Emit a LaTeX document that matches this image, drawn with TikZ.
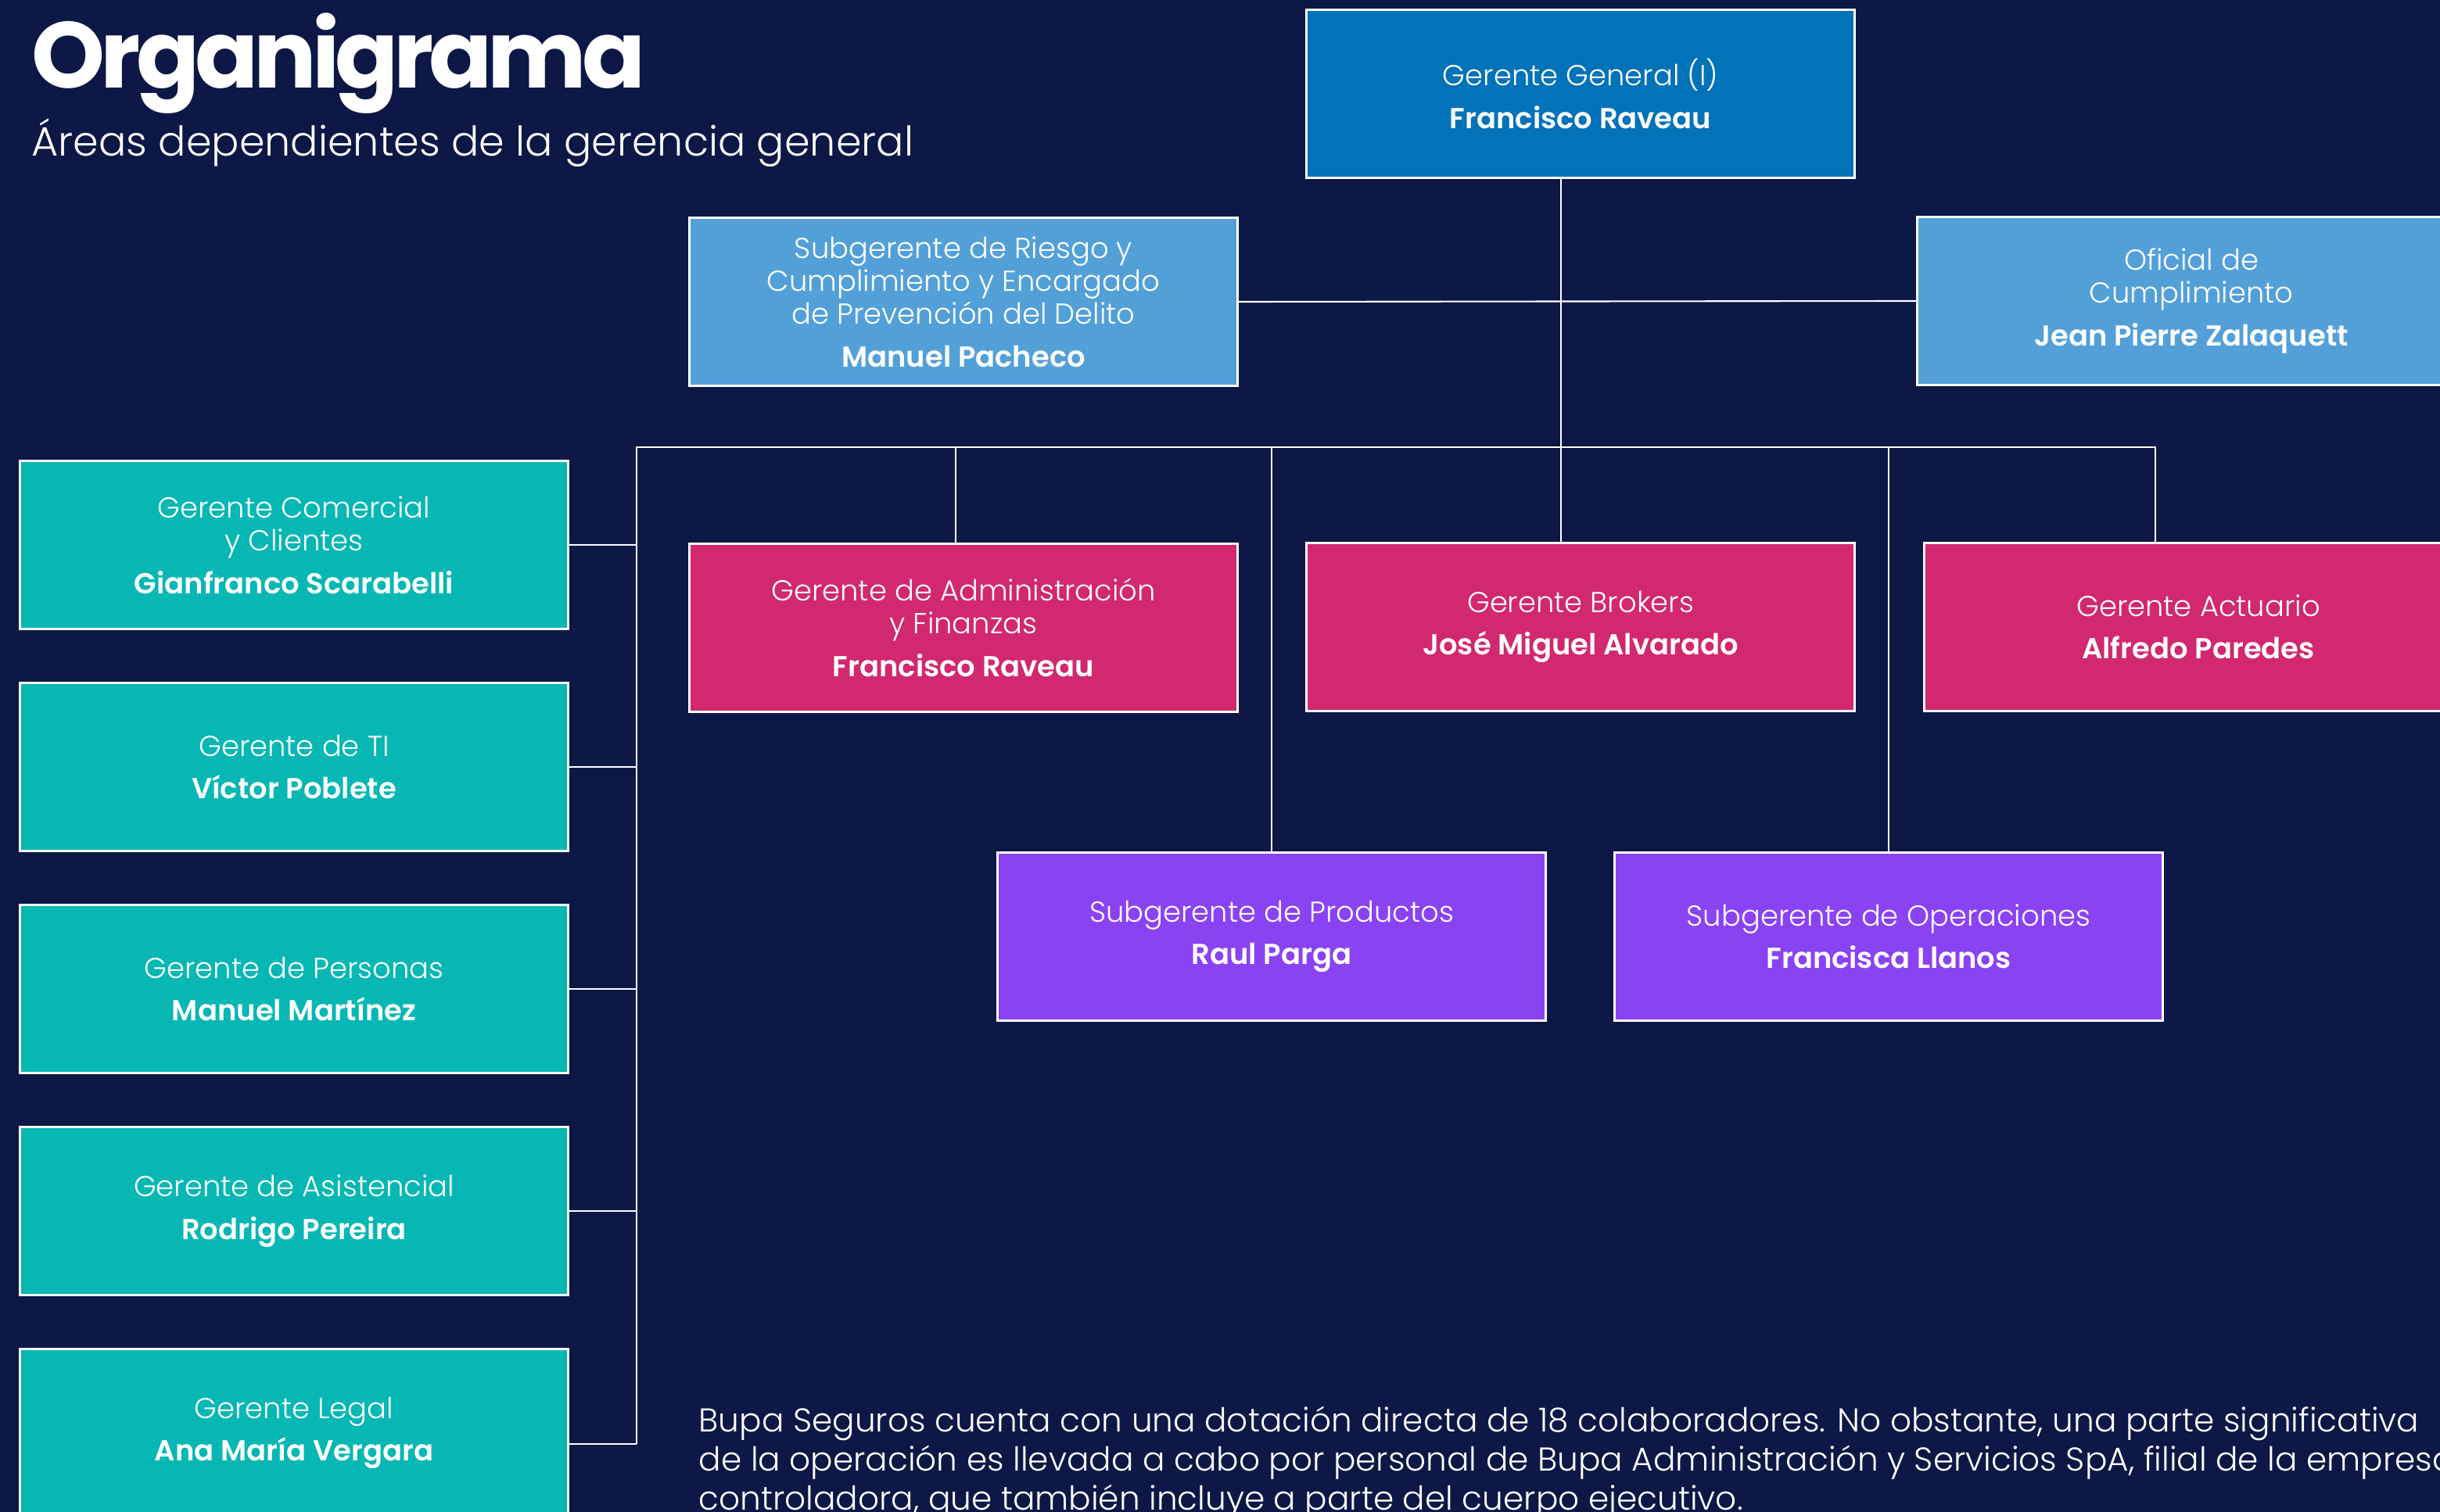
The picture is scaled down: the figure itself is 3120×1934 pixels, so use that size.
\documentclass[tikz,border=0pt]{standalone}
\usepackage{fontspec}
\IfFontExistsTF{Poppins Light}{%
  \IfFontExistsTF{Poppins SemiBold}
    {\setmainfont{Poppins}[UprightFont={* Light},BoldFont={* SemiBold}]}
    {\setmainfont{Poppins}[UprightFont={* Light},BoldFont={* Bold}]}%
}{\setmainfont{Poppins}}
\newfontfamily\titulo{Poppins}[UprightFont={* Bold},LetterSpace=-5]
\usetikzlibrary{calc}
\definecolor{fondo}{RGB}{13,24,70}
\definecolor{azulGG}{RGB}{2,114,185}
\definecolor{celeste}{RGB}{83,160,217}
\definecolor{turquesa}{RGB}{6,183,180}
\definecolor{fucsia}{RGB}{209,40,111}
\definecolor{violeta}{RGB}{138,67,243}
\tikzset{
  caja/.style={draw=white,line width=0.8pt,text=white,minimum width=7cm,minimum height=2.15cm,align=center,inner sep=0pt,font=\fontsize{10.5}{12}\selectfont},
  linea/.style={draw=white,line width=0.6pt}
}

\begin{document}
\begin{tikzpicture}[x=0.01cm,y=-0.01cm]

\useasboundingbox (0,0) rectangle (3120,1934);
\fill [fondo] (0,0) rectangle (3120,1934);

\node (titulo) at (40,113) [anchor=base west,inner sep=0pt,text=white,font=\titulo\fontsize{34}{36}\selectfont] {Organigrama};
\node (subtitulo) at (40,200) [anchor=base west,inner sep=0pt,text=white,font=\fontsize{14.9}{18}\selectfont] {Áreas dependientes de la gerencia general};

\node (GG) at (2021,120) [caja,fill=azulGG] {Gerente General (I)\\[3.5pt]\textbf{Francisco Raveau}};
\node (RI) at (1232,386) [caja,fill=celeste] {Subgerente de Riesgo y\\Cumplimiento y Encargado\\de Prevención del Delito\\[3.5pt]\textbf{Manuel Pacheco}};
\node (OC) at (2802,385) [caja,fill=celeste] {Oficial de\\Cumplimiento\\[3.5pt]\textbf{Jean Pierre Zalaquett}};

\node (CO) at (376,697) [caja,fill=turquesa] {Gerente Comercial\\y Clientes\\[3.5pt]\textbf{Gianfranco Scarabelli}};
\node (TI) at (376,981) [caja,fill=turquesa] {Gerente de TI\\[3.5pt]\textbf{Víctor Poblete}};
\node (PE) at (376,1265) [caja,fill=turquesa] {Gerente de Personas\\[3.5pt]\textbf{Manuel Martínez}};
\node (AS) at (376,1549) [caja,fill=turquesa] {Gerente de Asistencial\\[3.5pt]\textbf{Rodrigo Pereira}};
\node (LE) at (376,1833) [caja,fill=turquesa] {Gerente Legal\\[3.5pt]\textbf{Ana María Vergara}};

\node (AF) at (1232,803) [caja,fill=fucsia] {Gerente de Administración\\y Finanzas\\[3.5pt]\textbf{Francisco Raveau}};
\node (BR) at (2021,802) [caja,fill=fucsia] {Gerente Brokers\\[3.5pt]\textbf{José Miguel Alvarado}};
\node (AC) at (2811,802) [caja,fill=fucsia] {Gerente Actuario\\[3.5pt]\textbf{Alfredo Paredes}};

\node (PR) at (1626,1198) [caja,fill=violeta] {Subgerente de Productos\\[3.5pt]\textbf{Raul Parga}};
\node (OP) at (2415,1198) [caja,fill=violeta] {Subgerente de Operaciones\\[3.5pt]\textbf{Francisca Llanos}};

\node (nota) at (893,1798) [anchor=north west,inner sep=0pt,text=white,align=left,font=\fontsize{12}{14.2}\selectfont] {Bupa Seguros cuenta con una dotación directa de 18 colaboradores. No obstante, una parte significativa\\de la operación es llevada a cabo por personal de Bupa Administración y Servicios SpA, filial de la empresa\\controladora, que también incluye a parte del cuerpo ejecutivo.};

% lineas
\coordinate (tr) at (1996,572);
\coordinate (bi) at (814,572);
\coordinate (bd) at (2756,572);
\coordinate (bb) at (814,1847);
\coordinate (dAF) at (1222,572);
\coordinate (dPR) at (1626,572);
\coordinate (dOP) at (2415,572);

\draw [linea] (tr |- GG.south) -- (tr |- BR.north);
\draw [linea] (RI.east) -- (OC.west);
\draw [linea] (bb) -- (bi) -- (bd) -- (bd |- AC.north);
\draw [linea] (dAF) -- (dAF |- AF.north);
\draw [linea] (dPR) -- (dPR |- PR.north);
\draw [linea] (dOP) -- (dOP |- OP.north);
\draw [linea] (CO.east) -- (CO.east -| bi);
\draw [linea] (TI.east) -- (TI.east -| bi);
\draw [linea] (PE.east) -- (PE.east -| bi);
\draw [linea] (AS.east) -- (AS.east -| bi);
\draw [linea] (LE.east |- bb) -- (bb);

\end{tikzpicture}
\end{document}
